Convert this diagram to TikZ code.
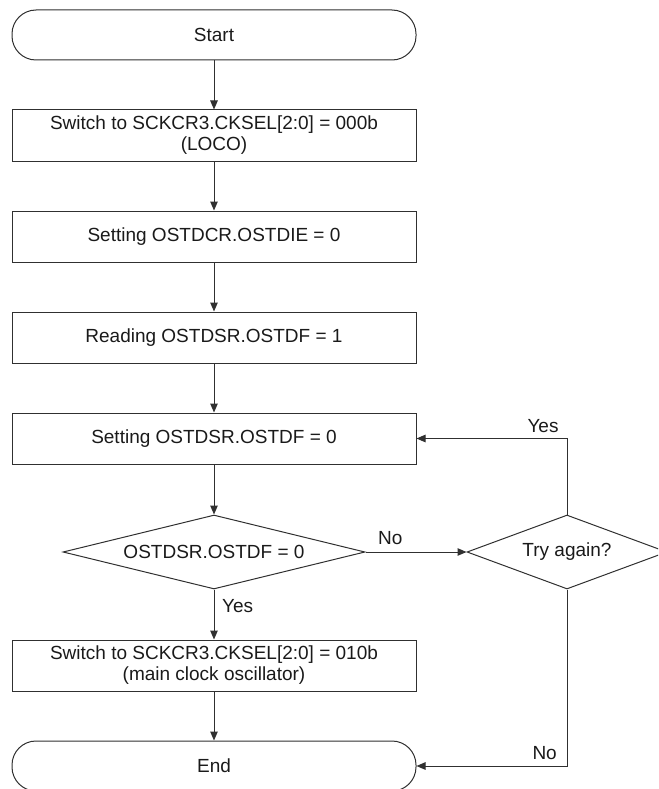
\documentclass[tikz,border=0pt]{standalone}
\usepackage{fontspec}
\setmainfont{Liberation Sans}
\usetikzlibrary{shapes.geometric,arrows.meta}
\definecolor{linec}{HTML}{303030}
\definecolor{textc}{HTML}{1A1A1A}
\begin{document}
\begin{tikzpicture}[x=1pt,y=-1pt,
  font=\fontsize{19}{21}\selectfont, text=textc,
  proc/.style={draw=linec, line width=1pt, rectangle, minimum width=404pt, minimum height=51pt, inner sep=0pt, align=center},
  term/.style={proc, rounded corners=24pt, minimum height=50pt},
  dec/.style={draw=linec, line width=1pt, diamond, inner sep=0pt, minimum height=74pt},
  conn/.style={draw=linec, line width=1pt, -{Triangle[length=9pt,width=7.5pt]}},
  lbl/.style={inner sep=0pt}
]
\useasboundingbox (0,0) rectangle (658,789);
\clip (0,0) rectangle (658,789);

\node[term] (start) at (214,35) {Start};
\node[proc] (b1) at (214,135.5) {Switch to SCKCR3.CKSEL[2:0] = 000b\\(LOCO)};
\node[proc] (b2) at (214,236.5) {Setting OSTDCR.OSTDIE = 0};
\node[proc] (b3) at (214,337.5) {Reading OSTDSR.OSTDF = 1};
\node[proc] (b4) at (214,438.5) {Setting OSTDSR.OSTDF = 0};
\node[dec, shape aspect=4.08, minimum width=302pt] (d1) at (214,552) {OSTDSR.OSTDF = 0};
\node[dec, shape aspect=2.7, minimum width=200pt] (d2) at (567,552) {Try again?};
\node[proc] (b5) at (214,665.5) {Switch to SCKCR3.CKSEL[2:0] = 010b\\(main clock oscillator)};
\node[term] (end) at (214,766) {End};

\draw[conn] (start.south) -- (b1.north);
\draw[conn] (b1.south) -- (b2.north);
\draw[conn] (b2.south) -- (b3.north);
\draw[conn] (b3.south) -- (b4.north);
\draw[conn] (b4.south) -- (d1.north);
\draw[conn] (d1.south) -- (b5.north);
\draw[conn] (b5.south) -- (end.north);
\draw[conn] (d1.east) -- (d2.west);
\draw[conn] (d2.north) |- (b4.east);
\draw[conn] (d2.south) |- (end.east);

\node[lbl, anchor=west] (yes1) at (222,606) {Yes};
\node[lbl, anchor=west] (no1) at (378,538) {No};
\node[lbl] (yes2) at (543,426) {Yes};
\node[lbl, anchor=east] (no2) at (557,753) {No};
\end{tikzpicture}
\end{document}
